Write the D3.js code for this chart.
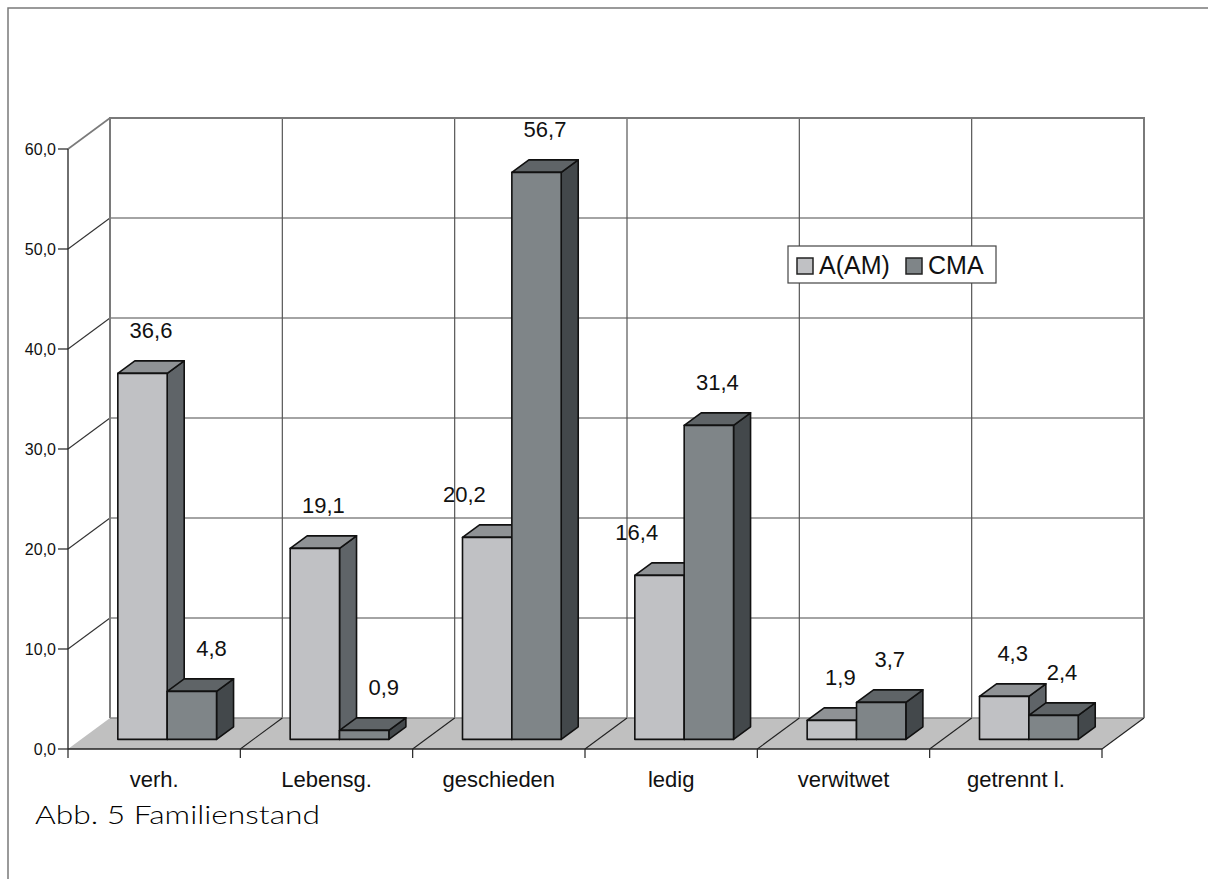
<!DOCTYPE html>
<html>
<head>
<meta charset="utf-8">
<script src="https://cdn.jsdelivr.net/npm/d3@7/dist/d3.min.js"></script>
<style>
  html, body { margin: 0; padding: 0; background: #fff; }
  svg { display: block; }
  text { font-family: "Liberation Sans", Arial, sans-serif; fill: #111; }
</style>
</head>
<body>
<svg id="chart" width="1208" height="879"></svg>
<script>
// Familienstand: share (%) per group
const categories = ["verh.", "Lebensg.", "geschieden", "ledig", "verwitwet", "getrennt l."];
const seriesNames = ["A(AM)", "CMA"];
const valuesA = [36.6, 19.1, 20.2, 16.4, 1.9, 4.3];
const valuesCMA = [4.8, 0.9, 56.7, 31.4, 3.7, 2.4];
const yTicks = [0, 10, 20, 30, 40, 50, 60];
const title = "Abb. 5 Familienstand";

const fmt = v => d3.format(".1f")(v).replace(".", ",");

const svg = d3.select("#chart");

// front plane scales
const y = d3.scaleLinear().domain([0, 60]).range([749, 149]);
const x = d3.scaleBand().domain(categories).range([68, 1102]).padding(0);
const bw = x.bandwidth();
const sub = d3.scaleBand().domain(seriesNames).range([bw * 0.2136, bw * 0.7864]).padding(0);

// 3D depth vector (front plane -> back wall)
const DX = 42, DY = -31;
const f0 = 0.31, f1 = 0.715;      // bar front / back depth
const ddx = (f1 - f0) * DX, ddy = (f1 - f0) * DY;

const colors = {
  "A(AM)": { front: "#c0c1c4", top: "#8f9295", side: "#5f6468" },
  "CMA":   { front: "#7f8588", top: "#5f6467", side: "#43484b" }
};

// outer frame
svg.append("path")
  .attr("d", "M8,879 L8,8 L1208,8")
  .attr("fill", "none").attr("stroke", "#7a7a7a").attr("stroke-width", 1.5);

const backX0 = 68 + DX, backX1 = 1102 + DX;

// back wall
svg.append("rect")
  .attr("x", backX0).attr("y", y(60) + DY)
  .attr("width", backX1 - backX0).attr("height", y(0) - y(60))
  .attr("fill", "#fff");

// horizontal gridlines on back wall
svg.append("g").selectAll("line").data(yTicks.filter(t => t > 0 && t < 60)).join("line")
  .attr("x1", backX0).attr("x2", backX1)
  .attr("y1", d => y(d) + DY).attr("y2", d => y(d) + DY)
  .attr("stroke", "#4a4a4a").attr("stroke-width", 1.2);

// vertical gridlines on back wall
const bounds = d3.range(categories.length + 1).map(i => 68 + i * bw);
svg.append("g").selectAll("line").data(bounds.slice(1, -1)).join("line")
  .attr("x1", d => d + DX).attr("x2", d => d + DX)
  .attr("y1", y(0) + DY).attr("y2", y(60) + DY)
  .attr("stroke", "#555").attr("stroke-width", 1.2);

// side wall diagonals
svg.append("g").selectAll("line").data(yTicks.filter(t => t > 0)).join("line")
  .attr("x1", 68).attr("y1", d => y(d))
  .attr("x2", 68 + DX).attr("y2", d => y(d) + DY)
  .attr("stroke", d => d === 60 ? "#7a7a7a" : "#333").attr("stroke-width", d => d === 60 ? 1.6 : 1.1);

// back wall border
svg.append("path")
  .attr("d", `M${backX0},${y(0) + DY} L${backX0},${y(60) + DY} L${backX1},${y(60) + DY} L${backX1},${y(0) + DY}`)
  .attr("fill", "none").attr("stroke", "#7a7a7a").attr("stroke-width", 2);

// floor
svg.append("path")
  .attr("d", `M68,${y(0)} L1102,${y(0)} L${1102 + DX},${y(0) + DY} L${68 + DX},${y(0) + DY} Z`)
  .attr("fill", "#c0c0c0").attr("stroke", "none");
svg.append("line")
  .attr("x1", backX0).attr("x2", backX1).attr("y1", y(0) + DY).attr("y2", y(0) + DY)
  .attr("stroke", "#8a8a8a").attr("stroke-width", 1.5);
svg.append("g").selectAll("line").data(bounds.slice(1)).join("line")
  .attr("x1", d => d).attr("y1", y(0))
  .attr("x2", d => d + DX).attr("y2", y(0) + DY)
  .attr("stroke", "#222").attr("stroke-width", 1.1);

// front axis lines
svg.append("line").attr("x1", 68).attr("x2", 68).attr("y1", y(60)).attr("y2", y(0))
  .attr("stroke", "#222").attr("stroke-width", 1.3);
svg.append("line").attr("x1", 68).attr("x2", 1102).attr("y1", y(0)).attr("y2", y(0))
  .attr("stroke", "#222").attr("stroke-width", 1.3);

// y ticks + labels
const yAxis = svg.append("g");
yAxis.selectAll("line").data(yTicks).join("line")
  .attr("x1", 58).attr("x2", 68).attr("y1", d => y(d)).attr("y2", d => y(d))
  .attr("stroke", "#222").attr("stroke-width", 1.2);
yAxis.selectAll("text").data(yTicks).join("text")
  .attr("x", 56).attr("y", d => y(d) + 5.5)
  .attr("text-anchor", "end").attr("font-size", 16)
  .text(d => fmt(d));

// x ticks + labels
svg.append("g").selectAll("line").data(bounds).join("line")
  .attr("x1", d => d).attr("x2", d => d).attr("y1", y(0)).attr("y2", y(0) + 9)
  .attr("stroke", "#222").attr("stroke-width", 1.2);
svg.append("g").selectAll("text").data(categories).join("text")
  .attr("x", d => x(d) + bw / 2).attr("y", 787)
  .attr("text-anchor", "middle").attr("font-size", 22)
  .text(d => d);

// bars
const rows = [];
categories.forEach((c, i) => {
  [valuesA[i], valuesCMA[i]].forEach((v, j) => {
    const s = seriesNames[j];
    const x0 = x(c) + sub(s) + f0 * DX;
    const x1 = x0 + sub.bandwidth();
    const yb = y(0) + f0 * DY;
    const yt = y(v) + f0 * DY;
    rows.push({ c, i, s, j, v, x0, x1, yb, yt });
  });
});

const barG = svg.append("g");
rows.forEach(r => {
  const col = colors[r.s];
  const g = barG.append("g").attr("stroke", "#111").attr("stroke-width", 1.6).attr("stroke-linejoin", "round");
  g.append("path")
    .attr("d", `M${r.x1},${r.yt} L${r.x1 + ddx},${r.yt + ddy} L${r.x1 + ddx},${r.yb + ddy} L${r.x1},${r.yb} Z`)
    .attr("fill", col.side);
  g.append("path")
    .attr("d", `M${r.x0},${r.yt} L${r.x1},${r.yt} L${r.x1 + ddx},${r.yt + ddy} L${r.x0 + ddx},${r.yt + ddy} Z`)
    .attr("fill", col.top);
  g.append("rect")
    .attr("x", r.x0).attr("y", r.yt).attr("width", r.x1 - r.x0).attr("height", r.yb - r.yt)
    .attr("fill", col.front);
});

// value labels, nudged sideways when the neighbouring column is in the way
const labG = svg.append("g");
rows.forEach(r => {
  const base = r.yt - 35;
  const t = labG.append("text").attr("font-size", 22).attr("y", base).text(fmt(r.v));
  const w = t.node().getComputedTextLength();
  let cx = (r.x0 + r.x1) / 2 + ddx / 2;
  const other = rows.find(o => o.i === r.i && o.j !== r.j);
  if (other.yt + ddy < base) {
    if (r.j === 0) cx = Math.min(cx, other.x0 - 26 - w / 2);
    else cx = Math.max(cx, other.x1 + ddx + 12 + w / 2);
  }
  t.attr("x", cx).attr("text-anchor", "middle");
});

// legend
const leg = svg.append("g");
leg.append("rect").attr("x", 788).attr("y", 246).attr("width", 208).attr("height", 37)
  .attr("fill", "#fff").attr("stroke", "#444").attr("stroke-width", 1.2);
const legX = [797, 906];
seriesNames.forEach((s, k) => {
  leg.append("rect").attr("x", legX[k]).attr("y", 258).attr("width", 16).attr("height", 16)
    .attr("fill", colors[s].front).attr("stroke", "#222").attr("stroke-width", 1.5);
  leg.append("text").attr("x", legX[k] + 22).attr("y", 274).attr("font-size", 25).text(s);
});

// caption
svg.append("text")
  .attr("x", 35).attr("y", 824)
  .attr("font-size", 25)
  .attr("textLength", 285).attr("lengthAdjust", "spacingAndGlyphs")
  .style("font-family", "Lato, 'Open Sans', sans-serif").style("font-weight", 300)
  .style("fill", "#000")
  .text(title);
</script>
</body>
</html>
